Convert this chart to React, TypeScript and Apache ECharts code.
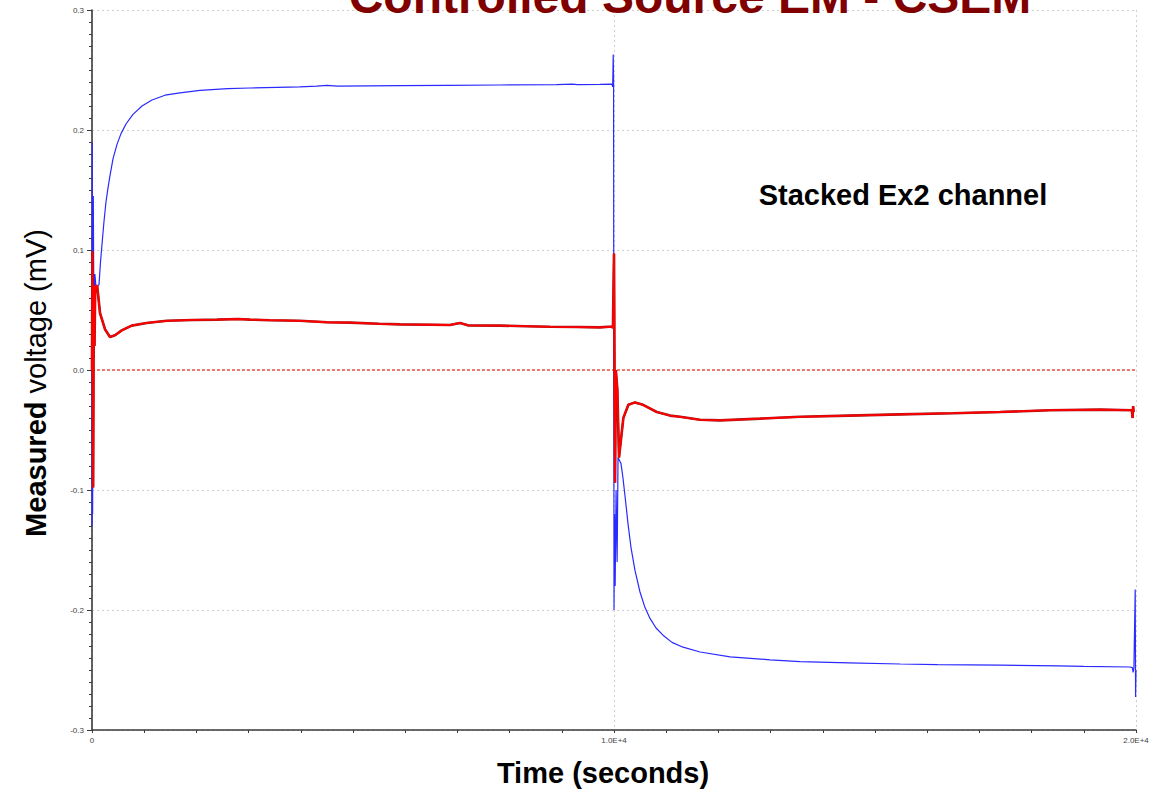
import React, { useEffect, useRef } from "react";
import * as echarts from "echarts";

const xTickLabels = ["0", "1.0E+4", "2.0E+4"];

const blueTime = [
  0, 5, 12, 25, 40, 55, 75, 96, 134, 163, 192, 230, 268, 307, 345, 402, 479, 556, 651, 785, 958, 1149,
  1398, 1686, 2069, 2600, 3027, 3985, 4300, 4500, 4700, 5900, 6800, 7816, 8900, 9200, 9300, 9732,
  9960, 9975, 9985, 9992, 10000, 10010, 10022, 10040, 10060, 10077, 10134, 10172, 10211, 10268, 10326,
  10402, 10498, 10594, 10690, 10805, 10939, 11111, 11322, 11650, 12225, 12988, 13566, 14500, 15482,
  16200, 17397, 18500, 19000, 19885, 19930, 19945, 19960, 19985, 19992, 20000,
];
const blueVolt = [
  -0.13, 0.19, -0.12, 0.145, 0.01, 0.08, 0.07, 0.07, 0.071, 0.09, 0.105, 0.124, 0.14, 0.152, 0.162,
  0.176, 0.188, 0.197, 0.205, 0.213, 0.22, 0.225, 0.229, 0.231, 0.233, 0.2345, 0.235, 0.236, 0.2365,
  0.2372, 0.2365, 0.237, 0.2372, 0.2375, 0.2378, 0.2383, 0.2378, 0.238, 0.2382, 0.236, 0.263, 0.24,
  -0.2, -0.12, -0.18, -0.1, -0.16, -0.073, -0.078, -0.09, -0.105, -0.128, -0.148, -0.167, -0.185,
  -0.198, -0.207, -0.215, -0.221, -0.227, -0.231, -0.235, -0.239, -0.2415, -0.243, -0.244, -0.245,
  -0.2455, -0.246, -0.2465, -0.247, -0.2475, -0.248, -0.252, -0.248, -0.183, -0.2725, -0.25,
];

const redTime = [
  0, 8, 22, 35, 48, 62, 100, 153, 249, 345, 441, 569, 761, 1048, 1431, 1935, 2394, 2800, 3027, 3400,
  3985, 4500, 4943, 5500, 5900, 6500, 6858, 7050, 7200, 7816, 8300, 8774, 9300, 9732, 9960, 9980,
  10000, 10020, 10035, 10064, 10096, 10179, 10275, 10403, 10557, 10819, 11075, 11267, 11650, 12033,
  12800, 13566, 14500, 15482, 16500, 17397, 18355, 19313, 19920, 19935, 19945, 19955,
];
const redVolt = [
  0.0, 0.099, -0.098, 0.07, 0.02, 0.07, 0.07, 0.0475, 0.034, 0.0275, 0.029, 0.033, 0.037, 0.0392,
  0.041, 0.0417, 0.042, 0.0425, 0.042, 0.0415, 0.041, 0.0398, 0.0395, 0.0385, 0.038, 0.0377, 0.0375,
  0.0392, 0.0372, 0.037, 0.0365, 0.036, 0.0358, 0.0355, 0.0362, 0.035, 0.097, -0.094, 0.0, -0.016,
  -0.073, -0.04, -0.029, -0.027, -0.029, -0.035, -0.038, -0.039, -0.0415, -0.042, -0.0405, -0.039,
  -0.038, -0.037, -0.036, -0.035, -0.0335, -0.033, -0.0335, -0.04, -0.03, -0.035,
];

const zeroTime = [0, 20000];
const zeroVolt = [0, 0];

const pairs = (t: number[], v: number[]) => t.map((x, i) => [x, v[i]]);

const FONT = '"Liberation Sans", Arial, Helvetica, sans-serif';

export default function App() {
  const ref = useRef<HTMLDivElement>(null);
  useEffect(() => {
    const chart = echarts.init(ref.current!, null, { renderer: "svg" });
    chart.setOption({
      animation: false,
      backgroundColor: "#ffffff",
      grid: { left: 92, right: 22, top: 10, bottom: 62, containLabel: false },
      xAxis: {
        type: "value",
        min: 0,
        max: 20000,
        interval: 10000,
        axisLine: { show: true, onZero: false, lineStyle: { color: "#3a3a3a", width: 1.6 } },
        axisTick: { show: true, length: 3, lineStyle: { color: "#3a3a3a" } },
        minorTick: { show: true, splitNumber: 10, length: 3, lineStyle: { color: "#3a3a3a" } },
        axisLabel: {
          margin: 6,
          fontSize: 8,
          fontFamily: FONT,
          color: "#444",
          formatter: (v: number) => xTickLabels[Math.round(v / 10000)],
        },
        splitLine: { show: true, lineStyle: { color: "#cfcfcf", type: [2, 3], width: 1 } },
      },
      yAxis: {
        type: "value",
        min: -0.3,
        max: 0.3,
        interval: 0.1,
        axisLine: { show: true, onZero: false, lineStyle: { color: "#3a3a3a", width: 1.6 } },
        axisTick: { show: true, length: 5, lineStyle: { color: "#3a3a3a" } },
        minorTick: { show: true, splitNumber: 10, length: 3, lineStyle: { color: "#3a3a3a" } },
        axisLabel: {
          margin: 8,
          fontSize: 8,
          fontFamily: FONT,
          color: "#444",
          formatter: (v: number) => v.toFixed(1),
        },
        splitLine: { show: true, lineStyle: { color: "#cfcfcf", type: [2, 3], width: 1 } },
      },
      series: [
        {
          type: "line",
          data: pairs(zeroTime, zeroVolt),
          showSymbol: false,
          silent: true,
          lineStyle: { color: "#ea5545", width: 1.5, type: [3, 2] },
          z: 1,
        },
        {
          type: "line",
          data: pairs(blueTime, blueVolt),
          showSymbol: false,
          lineStyle: { color: "#2a2aff", width: 1.2 },
          z: 2,
        },
        {
          type: "line",
          data: pairs(redTime, redVolt),
          showSymbol: false,
          lineStyle: { color: "#9a1a1a", width: 2.6 },
          z: 3,
        },
        {
          type: "line",
          data: pairs(redTime, redVolt),
          showSymbol: false,
          lineStyle: { color: "#ff0000", width: 1.8 },
          z: 4,
        },
      ],
      graphic: [
        {
          type: "text",
          x: 690,
          y: -4,
          z: 100,
          style: {
            text: "Controlled Source EM - CSEM",
            font: `bold 48px ${FONT}`,
            fill: "#800000",
            align: "center",
            verticalAlign: "middle",
          },
        },
        {
          type: "text",
          x: 903,
          y: 195,
          z: 100,
          style: {
            text: "Stacked Ex2 channel",
            font: `bold 29px ${FONT}`,
            fill: "#000000",
            align: "center",
            verticalAlign: "middle",
          },
        },
        {
          type: "text",
          x: 603,
          y: 773,
          z: 100,
          style: {
            text: "Time (seconds)",
            font: `bold 29px ${FONT}`,
            fill: "#000000",
            align: "center",
            verticalAlign: "middle",
          },
        },
        {
          type: "text",
          x: 36,
          y: 383,
          rotation: Math.PI / 2,
          z: 100,
          style: {
            text: "{b|Measured} voltage (mV)",
            font: `29px ${FONT}`,
            fill: "#000000",
            align: "center",
            verticalAlign: "middle",
            rich: {
              b: { fontWeight: "bold", fontSize: 29, fontFamily: FONT, fill: "#000000" },
            },
          },
        },
      ],
    });
    return () => chart.dispose();
  }, []);
  return (
    <div
      ref={ref}
      style={{ position: "absolute", left: 0, top: 0, width: 1158, height: 792 }}
    />
  );
}
